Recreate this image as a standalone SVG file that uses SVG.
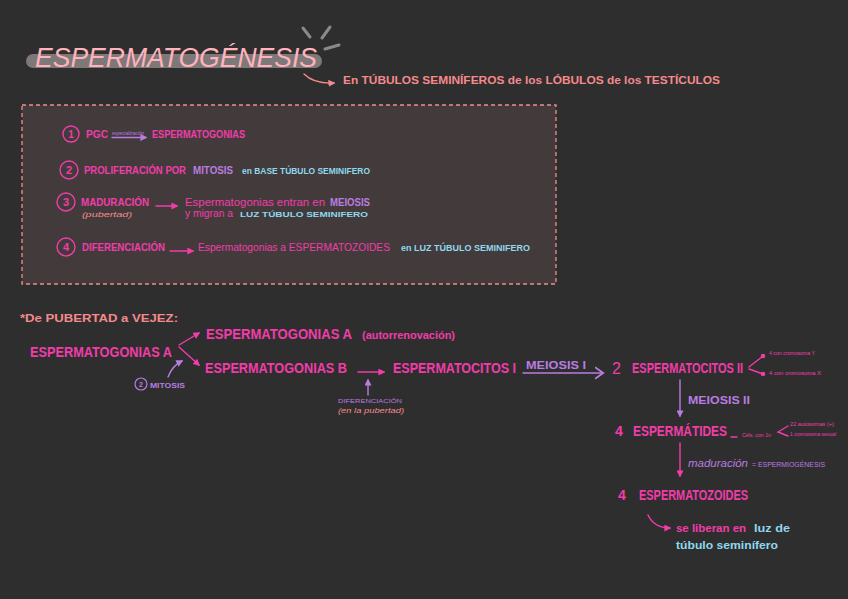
<svg xmlns="http://www.w3.org/2000/svg" width="848" height="599" viewBox="0 0 848 599">
<defs>
<style>
text{font-family:"Liberation Sans","Noto Sans",sans-serif}
.pk{fill:#f23caa}
.pu{fill:#b97de0}
.cy{fill:#8fd8ee}
.sa{fill:#f48a8c}
.b{font-weight:bold}
.s11{font-size:11px}
.s14{font-size:14px}
.s16{font-size:16px}
.t5{font-size:5px}
.lp{stroke:#f23caa;stroke-width:1.4;fill:none;stroke-linecap:round}
.lu{stroke:#b97de0;stroke-width:1.4;fill:none;stroke-linecap:round}
.ls{stroke:#f48a8c;stroke-width:1.4;fill:none;stroke-linecap:round}
.cir{fill:none;stroke:#f23caa;stroke-width:1.4}
</style>
<marker id="ap" viewBox="0 0 10 10" refX="8" refY="5" markerWidth="5" markerHeight="5" orient="auto"><path d="M0,0L10,5L0,10z" fill="#f23caa"/></marker>
<marker id="au" viewBox="0 0 10 10" refX="8" refY="5" markerWidth="5" markerHeight="5" orient="auto"><path d="M0,0L10,5L0,10z" fill="#b97de0"/></marker>
<marker id="as" viewBox="0 0 10 10" refX="8" refY="5" markerWidth="5" markerHeight="5" orient="auto"><path d="M0,0L10,5L0,10z" fill="#f48a8c"/></marker>
<marker id="uo" viewBox="0 0 12 12" refX="6" refY="6" markerWidth="10" markerHeight="10" orient="auto"><path d="M0,1L7,6L0,11" fill="none" stroke="#b97de0" stroke-width="1.6"/></marker>
<marker id="dot" viewBox="0 0 10 10" refX="5" refY="5" markerWidth="4" markerHeight="4"><circle cx="5" cy="5" r="4" fill="#f23caa"/></marker>
</defs>
<rect width="848" height="599" fill="#2e2e2e"/>

<g id="title">
<rect x="26" y="54" width="296" height="14" rx="7" fill="#8c8586" opacity="0.85"/>
<text x="35" y="67" font-size="28" font-style="italic" font-family="Lato,'Open Sans',sans-serif" font-weight="300" fill="#ffb3bc" textLength="282" lengthAdjust="spacingAndGlyphs">ESPERMATOGÉNESIS</text>
<g stroke="#8a8a8a" stroke-width="3" stroke-linecap="round">
<line x1="303" y1="28" x2="310" y2="37"/>
<line x1="330" y1="27" x2="322" y2="38"/>
<line x1="325" y1="49" x2="339" y2="45"/>
</g>
</g>

<g id="subtitle">
<path d="M304,74 Q314,84 334,83" class="ls" marker-end="url(#as)"/>
<text x="343" y="84" class="sa b s11" textLength="377" lengthAdjust="spacingAndGlyphs">En TÚBULOS SEMINÍFEROS de los LÓBULOS de los TESTÍCULOS</text>
</g>

<g id="box">
<rect x="22" y="105" width="534" height="179" fill="#433b3b" stroke="#f48a8c" stroke-width="1.3" stroke-dasharray="4,3"/>
</g>

<g id="item1">
<circle cx="71" cy="134" r="8" class="cir"/>
<text x="71" y="138" class="pk b" font-size="10" text-anchor="middle">1</text>
<text x="86" y="138" class="pk b s11" textLength="22" lengthAdjust="spacingAndGlyphs">PGC</text>
<text x="112" y="135" class="pu" font-size="5" font-style="italic" textLength="32" lengthAdjust="spacingAndGlyphs">especialización</text>
<path d="M112,137.5 L146,137.5" class="lu" stroke-width="0.8" marker-end="url(#au)"/>
<text x="152" y="138" class="pk b s11" textLength="93" lengthAdjust="spacingAndGlyphs">ESPERMATOGONIAS</text>
</g>

<g id="item2">
<circle cx="69" cy="170" r="9" class="cir"/>
<text x="69" y="174" class="pk b" font-size="11" text-anchor="middle">2</text>
<text x="84" y="174" class="pk b" font-size="10" textLength="102" lengthAdjust="spacingAndGlyphs">PROLIFERACIÓN POR</text>
<text x="193" y="174" class="pu b s11" textLength="40" lengthAdjust="spacingAndGlyphs">MITOSIS</text>
<text x="242" y="174" class="cy b" font-size="9" textLength="128" lengthAdjust="spacingAndGlyphs">en BASE TÚBULO SEMINIFERO</text>
</g>

<g id="item3">
<circle cx="66" cy="202" r="9" class="cir"/>
<text x="66" y="206" class="pk b" font-size="11" text-anchor="middle">3</text>
<text x="81" y="206" class="pk b s11" textLength="68" lengthAdjust="spacingAndGlyphs">MADURACIÓN</text>
<text x="82" y="217" class="sa" font-size="7" font-style="italic" textLength="50" lengthAdjust="spacingAndGlyphs">(pubertad)</text>
<path d="M156,206 L177,206" class="lp" marker-end="url(#ap)"/>
<text x="185" y="206" class="pk s11" textLength="140" lengthAdjust="spacingAndGlyphs">Espermatogonias entran en</text>
<text x="330" y="206" class="pu b" font-size="10" textLength="40" lengthAdjust="spacingAndGlyphs">MEIOSIS</text>
<text x="185" y="217" class="pk s11" textLength="48" lengthAdjust="spacingAndGlyphs">y migran a</text>
<text x="240" y="217" class="cy b" font-size="8" textLength="128" lengthAdjust="spacingAndGlyphs">LUZ TÚBULO SEMINIFERO</text>
</g>

<g id="item4">
<circle cx="66" cy="247" r="9" class="cir"/>
<text x="66" y="251" class="pk b" font-size="11" text-anchor="middle">4</text>
<text x="82" y="251" class="pk b s11" textLength="83" lengthAdjust="spacingAndGlyphs">DIFERENCIACIÓN</text>
<path d="M170,251 L193,251" class="lp" marker-end="url(#ap)"/>
<text x="198" y="251" class="pk s11" textLength="192" lengthAdjust="spacingAndGlyphs">Espermatogonias a ESPERMATOZOIDES</text>
<text x="401" y="251" class="cy b" font-size="9" textLength="129" lengthAdjust="spacingAndGlyphs">en LUZ TÚBULO SEMINIFERO</text>
</g>

<g id="heading2">
<text x="20" y="322" class="sa b s11" textLength="158" lengthAdjust="spacingAndGlyphs">*De PUBERTAD a VEJEZ:</text>
</g>

<g id="connectors">
<path d="M179,345 L199,333" class="lp" marker-end="url(#ap)"/>
<path d="M179,347 L199,365" class="lp" marker-end="url(#ap)"/>
<path d="M168,377 Q172,366 182,361" class="lu" marker-end="url(#au)"/>
<path d="M358,372 L384,372" class="lp" marker-end="url(#ap)"/>
<path d="M368,395 L368,380" class="lu" marker-end="url(#au)"/>
<path d="M523,373 L602,373" class="lu" marker-end="url(#uo)"/>
<path d="M749,367 L763,356" class="lp" stroke-width="1" marker-end="url(#dot)"/>
<path d="M749,369 L763,374" class="lp" stroke-width="1" marker-end="url(#dot)"/>
<path d="M680,380 L680,416" class="lu" marker-end="url(#au)"/>
<path d="M731,437 L737,437" class="lp" stroke-width="1"/>
<path d="M788,426 L778,432 L788,436" class="lp" stroke-width="0.8"/>
<path d="M680,443 L680,476" class="lp" marker-end="url(#ap)"/>
<path d="M648,515 Q654,528 670,528" class="lp" marker-end="url(#ap)"/>
</g>

<g id="espermatogonias-a">
<text x="30" y="357" class="pk b s14" textLength="142" lengthAdjust="spacingAndGlyphs">ESPERMATOGONIAS A</text>
</g>
<g id="mitosis">
<circle cx="141" cy="384" r="6" fill="none" stroke="#b97de0" stroke-width="1.2"/>
<text x="141" y="387" class="pu b" font-size="7" text-anchor="middle">2</text>
<text x="150" y="388" class="pu b" font-size="8" textLength="35" lengthAdjust="spacingAndGlyphs">MITOSIS</text>
</g>
<g id="autorrenovacion">
<text x="206" y="339" class="pk b s14" textLength="146" lengthAdjust="spacingAndGlyphs">ESPERMATOGONIAS A</text>
<text x="362" y="339" class="pk b" font-size="10" textLength="93" lengthAdjust="spacingAndGlyphs">(autorrenovación)</text>
</g>
<g id="espermatogonias-b">
<text x="205" y="373" class="pk b s14" textLength="142" lengthAdjust="spacingAndGlyphs">ESPERMATOGONIAS B</text>
</g>
<g id="diferenciacion">
<text x="338" y="403" class="pu" font-size="6" textLength="64" lengthAdjust="spacingAndGlyphs">DIFERENCIACIÓN</text>
<text x="338" y="413" class="sa" font-size="7" font-style="italic" textLength="66" lengthAdjust="spacingAndGlyphs">(en la pubertad)</text>
</g>
<g id="espermatocitos-1">
<text x="393" y="373" class="pk b s14" textLength="123" lengthAdjust="spacingAndGlyphs">ESPERMATOCITOS I</text>
</g>
<g id="meiosis-1">
<text x="526" y="369" class="pu b" font-size="10" textLength="60" lengthAdjust="spacingAndGlyphs">MEIOSIS I</text>
</g>
<g id="espermatocitos-2">
<text x="612" y="374" class="pk s16">2</text>
<text x="632" y="373" class="pk b s14" textLength="111" lengthAdjust="spacingAndGlyphs">ESPERMATOCITOS II</text>
<text x="769" y="355" class="pk" font-size="5.5" textLength="46" lengthAdjust="spacingAndGlyphs">4 con cromosoma Y</text>
<text x="769" y="375" class="pk" font-size="5.5" textLength="52" lengthAdjust="spacingAndGlyphs">4 con cromosoma X</text>
</g>
<g id="meiosis-2">
<text x="688" y="404" class="pu b" font-size="10" textLength="62" lengthAdjust="spacingAndGlyphs">MEIOSIS II</text>
</g>
<g id="espermatides">
<text x="615" y="436" class="pk b s14">4</text>
<text x="633" y="436" class="pk b s14" textLength="94" lengthAdjust="spacingAndGlyphs">ESPERMÁTIDES</text>
<text x="742" y="437" class="pk t5" textLength="29" lengthAdjust="spacingAndGlyphs">Céls. con 1n</text>
<text x="790" y="426" class="pk t5" textLength="44" lengthAdjust="spacingAndGlyphs">22 autosomas (+)</text>
<text x="790" y="436" class="pk t5" textLength="46" lengthAdjust="spacingAndGlyphs">1 cromosoma sexual</text>
</g>
<g id="maduracion">
<text x="688" y="467" class="pu" font-size="11" font-style="italic" textLength="60" lengthAdjust="spacingAndGlyphs">maduración</text>
<text x="752" y="467" class="pu" font-size="8" textLength="73" lengthAdjust="spacingAndGlyphs">= ESPERMIOGÉNESIS</text>
</g>
<g id="espermatozoides">
<text x="618" y="500" class="pk b s14">4</text>
<text x="639" y="500" class="pk b s14" textLength="109" lengthAdjust="spacingAndGlyphs">ESPERMATOZOIDES</text>
</g>
<g id="liberan">
<text x="676" y="532" class="pk b s11" textLength="70" lengthAdjust="spacingAndGlyphs">se liberan en</text>
<text x="754" y="532" class="cy b s11" textLength="36" lengthAdjust="spacingAndGlyphs">luz de</text>
<text x="676" y="549" class="cy b s11" textLength="102" lengthAdjust="spacingAndGlyphs">túbulo seminífero</text>
</g>
</svg>
